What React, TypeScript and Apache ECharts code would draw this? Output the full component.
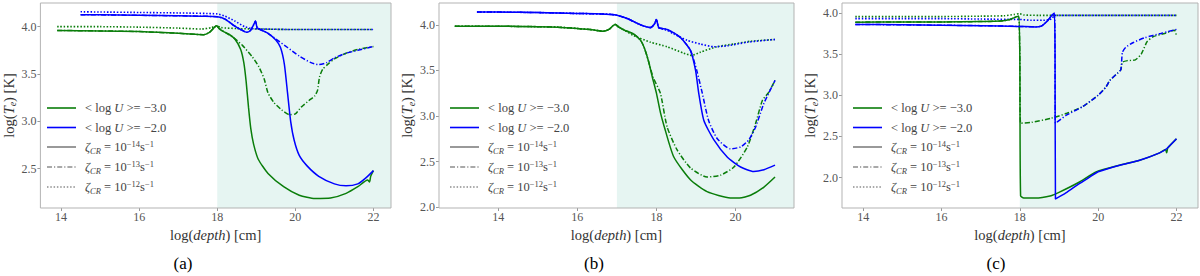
import React, { useEffect, useRef } from "react";
import * as echarts from "echarts";

type Pt = [number, number];

// ---------- panel settings ----------
const panelLabels = ["(a)", "(b)", "(c)"];
const xRanges: Pt[] = [[13.47, 22.45], [12.5, 21.48], [13.46, 22.55]];
const yRanges: Pt[] = [[2.085, 4.25], [1.99, 4.24], [1.63, 4.12]];
const shadeStart = [18, 17, 18];
const xTicks = [[14, 16, 18, 20, 22], [14, 16, 18, 20], [14, 16, 18, 20, 22]];
const yTicks = [[2.5, 3.0, 3.5, 4.0], [2.0, 2.5, 3.0, 3.5, 4.0], [2.0, 2.5, 3.0, 3.5, 4.0]];

// ---------- panel (a) ----------
const aGreen14: Pt[] = [[13.9,3.96],[15,3.955],[16,3.948],[16.5,3.94],[17,3.93],[17.4,3.92],[17.65,3.915],[17.8,3.94],[17.92,3.99],[17.98,4.01],[18.05,3.98],[18.15,3.95],[18.3,3.92],[18.45,3.87],[18.6,3.76],[18.68,3.62],[18.74,3.42],[18.8,3.15],[18.86,2.92],[18.93,2.76],[19.05,2.6],[19.3,2.45],[19.7,2.31],[20.1,2.22],[20.5,2.185],[20.9,2.19],[21.3,2.24],[21.6,2.31],[21.85,2.38],[21.9,2.36],[21.93,2.42],[22.0,2.48]];
const aGreen13: Pt[] = [[13.9,3.96],[15,3.955],[16,3.948],[17,3.93],[17.65,3.915],[17.8,3.94],[17.92,3.99],[17.98,4.01],[18.05,3.98],[18.2,3.94],[18.4,3.89],[18.65,3.8],[18.9,3.68],[19.06,3.58],[19.2,3.45],[19.3,3.3],[19.45,3.2],[19.65,3.12],[19.85,3.07],[20.0,3.08],[20.15,3.15],[20.35,3.22],[20.5,3.27],[20.57,3.33],[20.62,3.47],[20.7,3.55],[20.85,3.61],[21.0,3.66],[21.3,3.72],[21.6,3.76],[22.0,3.79]];
const aGreen12: Pt[] = [[13.9,4.0],[15,4.0],[16,3.995],[17,3.985],[17.6,3.975],[17.85,3.99],[17.98,4.01],[18.1,3.99],[18.5,3.98],[19,3.975],[20,3.97],[21,3.97],[22,3.97]];
const aBlue14: Pt[] = [[14.5,4.126],[15,4.125],[16,4.12],[17,4.115],[17.6,4.11],[18,4.105],[18.2,4.08],[18.4,4.02],[18.6,3.97],[18.75,3.94],[18.85,3.96],[18.93,4.02],[18.98,4.06],[19.02,3.99],[19.1,3.97],[19.3,3.93],[19.5,3.86],[19.62,3.78],[19.72,3.6],[19.8,3.3],[19.88,3.0],[19.97,2.8],[20.1,2.64],[20.3,2.53],[20.6,2.42],[21.0,2.34],[21.3,2.32],[21.6,2.34],[21.8,2.4],[22.0,2.48]];
const aBlue13: Pt[] = [[14.5,4.126],[15,4.125],[16,4.12],[17,4.115],[17.6,4.11],[18,4.105],[18.2,4.08],[18.4,4.02],[18.6,3.97],[18.75,3.94],[18.85,3.96],[18.93,4.02],[18.98,4.06],[19.02,3.99],[19.1,3.97],[19.3,3.93],[19.5,3.87],[19.8,3.78],[20.1,3.69],[20.4,3.62],[20.6,3.6],[20.8,3.62],[21.0,3.67],[21.3,3.72],[21.6,3.75],[22.0,3.79]];
const aBlue12: Pt[] = [[14.5,4.157],[15,4.155],[16,4.15],[17,4.145],[18,4.135],[18.2,4.11],[18.45,4.06],[18.7,4.0],[18.9,3.98],[19.2,3.975],[20,3.97],[21,3.97],[22,3.97]];

// ---------- panel (b) ----------
const bGreen14: Pt[] = [[12.9,3.985],[14,3.985],[15,3.98],[15.5,3.975],[16,3.96],[16.4,3.945],[16.65,3.93],[16.8,3.95],[16.9,3.99],[16.96,4.005],[17.05,3.975],[17.2,3.94],[17.42,3.9],[17.6,3.83],[17.7,3.74],[17.8,3.6],[17.9,3.42],[18.0,3.25],[18.1,3.04],[18.2,2.88],[18.44,2.55],[18.86,2.3],[19.28,2.17],[19.87,2.1],[20.1,2.1],[20.38,2.13],[20.72,2.22],[21.0,2.33]];
const bGreen13: Pt[] = [[12.9,3.985],[14,3.985],[15,3.98],[15.5,3.975],[16,3.96],[16.4,3.945],[16.65,3.93],[16.8,3.95],[16.9,3.99],[16.96,4.005],[17.05,3.975],[17.2,3.94],[17.42,3.9],[17.6,3.83],[17.7,3.74],[17.8,3.6],[17.92,3.42],[18.1,3.25],[18.27,2.88],[18.52,2.63],[18.86,2.43],[19.28,2.33],[19.62,2.35],[19.96,2.44],[20.3,2.66],[20.51,2.92],[20.68,3.17],[20.84,3.26],[21.0,3.39]];
const bGreen12: Pt[] = [[12.9,3.985],[14,3.985],[15,3.98],[15.5,3.975],[16,3.96],[16.4,3.945],[16.65,3.93],[16.8,3.95],[16.9,3.99],[16.96,4.005],[17.05,3.975],[17.2,3.94],[17.43,3.88],[17.85,3.81],[18.27,3.76],[18.69,3.69],[18.9,3.665],[19.11,3.7],[19.53,3.76],[19.96,3.79],[20.38,3.82],[21.0,3.84]];
const bBlue14: Pt[] = [[13.46,4.14],[14,4.14],[15,4.135],[16,4.125],[16.6,4.12],[16.95,4.11],[17.26,4.07],[17.6,4.0],[17.85,3.97],[17.95,4.01],[18.0,4.06],[18.06,3.97],[18.27,3.95],[18.61,3.86],[18.86,3.72],[18.99,3.5],[19.07,3.25],[19.2,2.95],[19.45,2.74],[19.79,2.55],[20.13,2.44],[20.46,2.39],[20.72,2.41],[21.0,2.46]];
const bBlue13: Pt[] = [[13.46,4.14],[14,4.14],[15,4.135],[16,4.125],[16.6,4.12],[16.95,4.11],[17.26,4.07],[17.6,4.0],[17.85,3.97],[17.95,4.01],[18.0,4.06],[18.06,3.97],[18.27,3.95],[18.61,3.86],[18.86,3.72],[19.02,3.5],[19.16,3.25],[19.32,2.95],[19.54,2.75],[19.87,2.64],[20.13,2.66],[20.34,2.74],[20.51,2.88],[20.72,3.14],[21.0,3.39]];
const bBlue12: Pt[] = [[13.46,4.14],[14,4.14],[15,4.135],[16,4.125],[16.6,4.12],[16.95,4.11],[17.26,4.07],[17.6,4.0],[17.85,3.97],[17.95,4.01],[18.0,4.06],[18.06,3.97],[18.27,3.94],[18.44,3.9],[18.78,3.83],[19.11,3.79],[19.45,3.76],[19.79,3.77],[20.3,3.81],[21.0,3.84]];

// ---------- panel (c) ----------
const cGreen14: Pt[] = [[13.8,3.887],[15,3.89],[16,3.89],[17,3.895],[17.5,3.9],[17.75,3.92],[17.9,3.95],[17.97,3.96],[18.0,3.5],[18.02,1.78],[18.1,1.75],[18.4,1.75],[18.8,1.78],[19.0,1.82],[19.5,1.94],[19.96,2.07],[20.55,2.15],[21.06,2.21],[21.57,2.3],[21.72,2.34],[21.75,2.3],[21.78,2.36],[22.0,2.47]];
const cGreen13: Pt[] = [[13.8,3.887],[15,3.89],[16,3.89],[17,3.895],[17.5,3.9],[17.75,3.92],[17.9,3.95],[17.97,3.96],[18.0,3.5],[18.02,2.66],[18.3,2.67],[18.8,2.72],[19.2,2.78],[19.6,2.86],[20.0,3.0],[20.2,3.1],[20.3,3.18],[20.5,3.27],[20.58,3.31],[20.62,3.4],[20.75,3.42],[20.95,3.43],[21.1,3.5],[21.25,3.65],[21.4,3.71],[21.7,3.75],[21.95,3.79],[22.0,3.72]];
const cGreen12: Pt[] = [[13.8,3.955],[15,3.955],[16,3.955],[17,3.96],[17.6,3.965],[17.85,3.98],[18.0,3.99],[18.1,3.975],[18.5,3.97],[19,3.97],[20,3.97],[21,3.97],[22,3.97]];
const cBlue14: Pt[] = [[13.8,3.86],[15,3.855],[16,3.85],[17,3.845],[18,3.835],[18.4,3.83],[18.55,3.84],[18.7,3.9],[18.8,3.96],[18.88,3.995],[18.9,3.5],[18.91,1.74],[19.2,1.82],[19.5,1.92],[19.8,2.01],[20.0,2.07],[20.55,2.15],[21.06,2.21],[21.57,2.3],[21.75,2.35],[22.0,2.47]];
const cBlue13: Pt[] = [[13.8,3.86],[15,3.855],[16,3.85],[17,3.845],[18,3.835],[18.4,3.83],[18.55,3.84],[18.7,3.9],[18.8,3.96],[18.88,3.995],[18.9,3.5],[18.91,2.66],[19.2,2.76],[19.6,2.86],[20.0,3.0],[20.2,3.1],[20.3,3.18],[20.5,3.27],[20.58,3.31],[20.62,3.52],[20.7,3.58],[20.9,3.64],[21.2,3.7],[21.6,3.75],[22.0,3.8]];
const cBlue12: Pt[] = [[13.8,3.93],[15,3.93],[16,3.93],[17,3.925],[18,3.92],[18.3,3.91],[18.6,3.91],[18.8,3.925],[18.9,3.97],[19,3.97],[20,3.97],[21,3.97],[22,3.97]];

const panelData: Pt[][][] = [
  [aGreen14, aGreen13, aGreen12, aBlue14, aBlue13, aBlue12],
  [bGreen14, bGreen13, bGreen12, bBlue14, bBlue13, bBlue12],
  [cGreen14, cGreen13, cGreen12, cBlue14, cBlue13, cBlue12],
];
const seriesNames = ["logU=-3, ζ=1e-14", "logU=-3, ζ=1e-13", "logU=-3, ζ=1e-12", "logU=-2, ζ=1e-14", "logU=-2, ζ=1e-13", "logU=-2, ζ=1e-12"];

const GREEN = "#0a7d0a";
const BLUE = "#0000ff";
const GRAY = "#555555";
const SHADE = "#e6f5f2";
const FONT = "Liberation Serif";
const DASHDOT = [5, 2, 1.2, 2];
const DOTTED = [1.5, 1.8];

const gridLefts = [36, 439, 842];
const gridWidths = [355, 355, 356];
const captionX = [183, 594, 996];
const gridTop = 3;
const gridHeight = 205;

function legendGraphics(p: number) {
  const lx = gridLefts[p] + 11;
  const tx = gridLefts[p] + 49;
  const rows = [108, 127.5, 147, 167, 187];
  const entries = [
    { color: GREEN, dash: null as any, text: "{m|< log }{i|U}{m| >= −3.0}" },
    { color: BLUE, dash: null as any, text: "{m|< log }{i|U}{m| >= −2.0}" },
    { color: GRAY, dash: null as any, text: "{i|ζ}{sub|CR}{m| = 10}{sup|−14}{m|s}{sup|−1}" },
    { color: GRAY, dash: DASHDOT, text: "{i|ζ}{sub|CR}{m| = 10}{sup|−13}{m|s}{sup|−1}" },
    { color: GRAY, dash: DOTTED, text: "{i|ζ}{sub|CR}{m| = 10}{sup|−12}{m|s}{sup|−1}" },
  ];
  const rich = {
    m: { fontFamily: FONT, fontSize: 12.5, fill: "#444", lineHeight: 16 },
    i: { fontFamily: FONT, fontSize: 12.5, fontStyle: "italic", fill: "#444", lineHeight: 16 },
    sub: { fontFamily: FONT, fontSize: 8.5, fontStyle: "italic", fill: "#444", lineHeight: 11, verticalAlign: "bottom" },
    sup: { fontFamily: FONT, fontSize: 8.5, fill: "#444", lineHeight: 9, verticalAlign: "top" },
  };
  const out: any[] = [];
  entries.forEach((e, k) => {
    const y = rows[k];
    out.push({
      type: "line",
      silent: true,
      z: 100,
      shape: { x1: lx, y1: y, x2: lx + 29, y2: y },
      style: { stroke: e.color, lineWidth: k < 2 ? 1.6 : 1.2, lineDash: e.dash || undefined },
    });
    out.push({
      type: "text",
      silent: true,
      z: 100,
      x: tx,
      y: y,
      style: { text: e.text, rich, verticalAlign: "middle", align: "left" },
    });
  });
  out.push({
    type: "text",
    silent: true,
    x: captionX[p],
    y: 263,
    style: {
      text: panelLabels[p],
      fontFamily: FONT,
      fontSize: 17,
      fill: "#000",
      align: "center",
      verticalAlign: "middle",
    },
  });
  return out;
}

export default function App() {
  const ref = useRef<HTMLDivElement>(null);
  useEffect(() => {
    if (!ref.current) return;
    const chart = echarts.init(ref.current, undefined, { renderer: "svg" });

    const grids = [0, 1, 2].map((p) => ({
      left: gridLefts[p],
      top: gridTop,
      width: gridWidths[p],
      height: gridHeight,
      show: true,
      z: 10,
      borderColor: "#b3b3b3",
      borderWidth: 1,
      backgroundColor: "transparent",
    }));

    const xAxes = [0, 1, 2].map((p) => ({
      type: "value",
      gridIndex: p,
      min: xRanges[p][0],
      max: xRanges[p][1],
      splitLine: { show: false },
      axisLine: { show: false },
      axisTick: { show: true, length: 3, customValues: xTicks[p], lineStyle: { color: "#999" } },
      axisLabel: {
        customValues: xTicks[p],
        formatter: (v: number) => String(Math.round(v)),
        fontFamily: FONT,
        fontSize: 12,
        color: "#555",
        margin: 3,
      },
      name: "{m|log(}{i|depth}{m|) [cm]}",
      nameLocation: "middle",
      nameGap: 12,
      nameTextStyle: {
        fontFamily: FONT,
        fontSize: 14.5,
        color: "#333",
        rich: {
          m: { fontFamily: FONT, fontSize: 14.5, color: "#333" },
          i: { fontFamily: FONT, fontSize: 14.5, color: "#333", fontStyle: "italic" },
        },
      },
    }));

    const yAxes = [0, 1, 2].map((p) => ({
      type: "value",
      gridIndex: p,
      min: yRanges[p][0],
      max: yRanges[p][1],
      splitLine: { show: false },
      axisLine: { show: false },
      axisTick: { show: true, length: 3, customValues: yTicks[p], lineStyle: { color: "#999" } },
      axisLabel: {
        customValues: yTicks[p],
        formatter: (v: number) => v.toFixed(1),
        fontFamily: FONT,
        fontSize: 12,
        color: "#555",
        margin: 4,
      },
      name: "{m|log(}{i|T}{sub|e}{m|) [K]}",
      nameLocation: "middle",
      nameGap: 19,
      nameTextStyle: {
        fontFamily: FONT,
        fontSize: 14.5,
        color: "#333",
        rich: {
          m: { fontFamily: FONT, fontSize: 14.5, color: "#333", lineHeight: 18 },
          i: { fontFamily: FONT, fontSize: 14.5, color: "#333", fontStyle: "italic", lineHeight: 18 },
          sub: { fontFamily: FONT, fontSize: 10, color: "#333", fontStyle: "italic", lineHeight: 12, verticalAlign: "bottom" },
        },
      },
    }));

    const series: any[] = [];
    [0, 1, 2].forEach((p) => {
      // shaded region
      series.push({
        type: "line",
        name: "shade" + p,
        xAxisIndex: p,
        yAxisIndex: p,
        data: [],
        silent: true,
        z: 1,
        markArea: {
          silent: true,
          itemStyle: { color: SHADE, opacity: 1 },
          data: [[{ xAxis: shadeStart[p] }, { xAxis: xRanges[p][1] }]],
        },
      });
      panelData[p].forEach((d, k) => {
        const color = k < 3 ? GREEN : BLUE;
        const style = k % 3;
        series.push({
          type: "line",
          name: seriesNames[k] + " " + panelLabels[p],
          xAxisIndex: p,
          yAxisIndex: p,
          data: d,
          showSymbol: false,
          symbol: "none",
          smooth: 0.2,
          clip: true,
          z: style === 0 ? 4 : 3,
          lineStyle: {
            color,
            width: style === 2 ? 1.6 : 1.5,
            type: style === 0 ? "solid" : style === 1 ? DASHDOT : DOTTED,
          },
        });
      });
    });

    const graphics: any[] = [];
    [0, 1, 2].forEach((p) => graphics.push(...legendGraphics(p)));

    chart.setOption({
      animation: false,
      backgroundColor: "#ffffff",
      grid: grids,
      xAxis: xAxes,
      yAxis: yAxes,
      series,
      graphic: graphics,
    });
    return () => chart.dispose();
  }, []);

  return (
    <div
      ref={ref}
      style={{ position: "fixed", left: 0, top: 0, width: 1200, height: 276 }}
    />
  );
}
